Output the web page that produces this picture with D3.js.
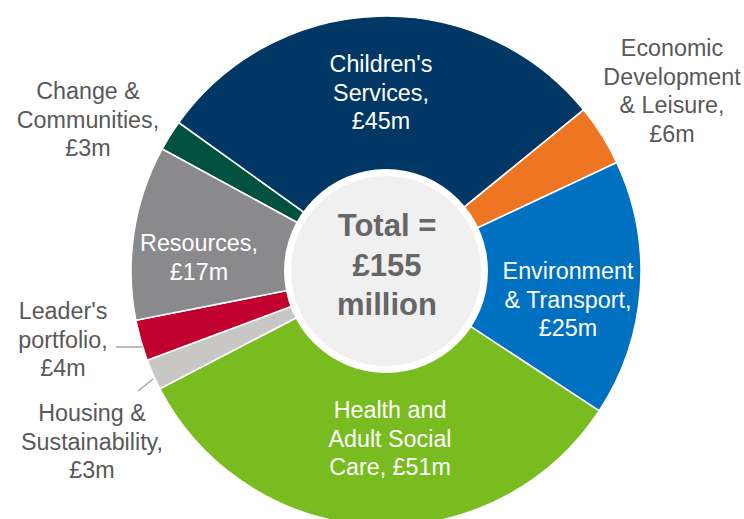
<!DOCTYPE html>
<html>
<head>
<meta charset="utf-8">
<script src="https://cdn.jsdelivr.net/npm/d3@7"></script>
<style>
  html, body { margin: 0; padding: 0; background: #ffffff; }
  svg { display: block; }
  text { font-family: "Liberation Sans", Arial, sans-serif; }
</style>
</head>
<body>
<svg id="chart" width="744" height="519"></svg>
<script>
// ---- data ----
const categories = ["Change & Communities", "Children's Services", "Economic Development & Leisure",
  "Environment & Transport", "Health and Adult Social Care", "Housing & Sustainability",
  "Leader's portfolio", "Resources"];
const values = [3, 45, 6, 25, 51, 3, 4, 17];
const colors = ["#00513F", "#003764", "#EE7623", "#0070C0", "#78BC20", "#C8C7C5", "#C0002F", "#8A8A8C"];
const labelLines = [
  ["Change &", "Communities,", "£3m"],
  ["Children's", "Services,", "£45m"],
  ["Economic", "Development", "& Leisure,", "£6m"],
  ["Environment", "& Transport,", "£25m"],
  ["Health and", "Adult Social", "Care, £51m"],
  ["Housing &", "Sustainability,", "£3m"],
  ["Leader's", "portfolio,", "£4m"],
  ["Resources,", "£17m"]
];
const labelInside = [false, true, false, true, true, false, false, true];
const centerLines = ["Total =", "£155", "million"];

// ---- layout ----
const svg = d3.select("#chart");
const cx = 386, cy = 271, R = 255, holeR = 102, innerR = 95;
const startDeg = -61.4;
const g = svg.append("g").attr("transform", `translate(${cx},${cy})`);

const pie = d3.pie().sort(null).value(d => d)
  .startAngle(startDeg * Math.PI / 180)
  .endAngle((startDeg + 360) * Math.PI / 180);
const arcs = pie(values);
const arc = d3.arc().innerRadius(0).outerRadius(R);

g.selectAll("path.slice").data(arcs).enter().append("path")
  .attr("class", "slice")
  .attr("d", arc)
  .attr("fill", (d, i) => colors[i])
  .attr("stroke", "#ffffff")
  .attr("stroke-width", 1.6)
  .attr("stroke-linejoin", "round");

g.append("circle").attr("r", holeR).attr("fill", "#ffffff");
g.append("circle").attr("r", innerR).attr("fill", "#F0F0F0");

// label positions (page coordinates of first-line centres)
const labelPos = [
  [88, 91], [381, 64], [672, 48], [568, 271], [390, 410], [92, 413], [63, 311], [199, 243]
];
const lineH = 28.5;

labelLines.forEach((lines, i) => {
  const t = svg.append("text")
    .attr("text-anchor", "middle")
    .attr("font-size", 23.3)
    .attr("fill", labelInside[i] ? "#ffffff" : "#595959");
  lines.forEach((ln, j) => {
    t.append("tspan")
      .attr("x", labelPos[i][0])
      .attr("y", labelPos[i][1] + j * lineH)
      .attr("dy", "0.36em")
      .text(ln);
  });
});

// leader lines
const leaders = [
  [[116, 347], [143, 347]],
  [[138, 391], [153, 379]]
];
leaders.forEach(p => {
  svg.append("path").attr("d", d3.line()(p))
    .attr("stroke", "#A6A6A6").attr("stroke-width", 1.5).attr("fill", "none");
});

// centre text
const ct = svg.append("text")
  .attr("text-anchor", "middle")
  .attr("font-size", 31)
  .attr("font-weight", "bold")
  .attr("fill", "#666666");
centerLines.forEach((ln, j) => {
  ct.append("tspan").attr("x", 387).attr("y", 225 + j * 39.5).attr("dy", "0.36em").text(ln);
});
</script>
</body>
</html>
